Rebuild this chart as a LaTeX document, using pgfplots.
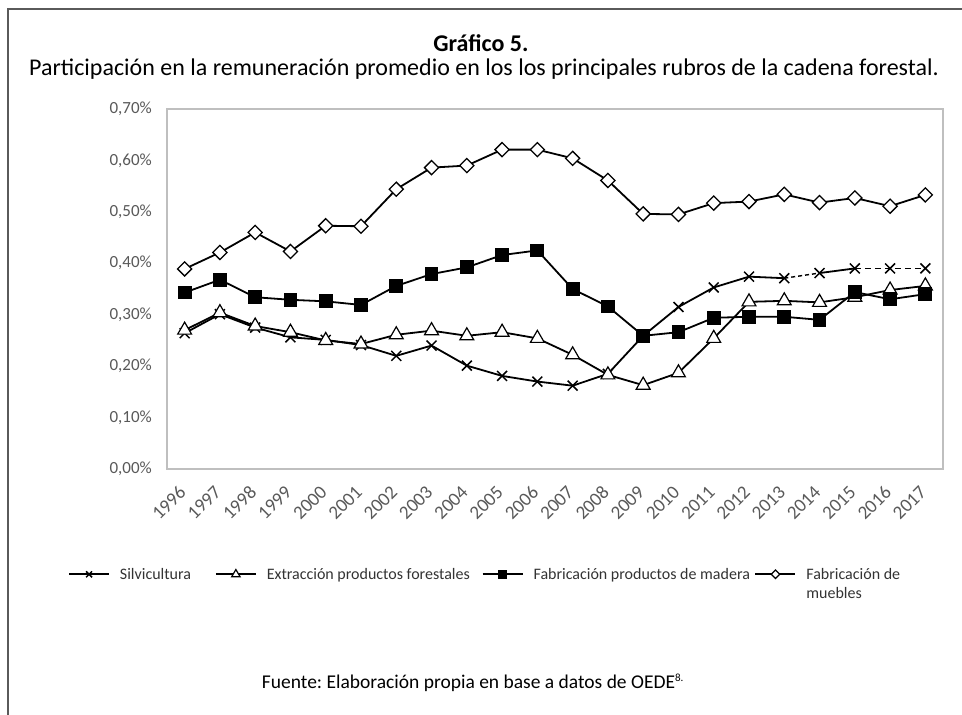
\documentclass[border=0pt]{standalone}
\usepackage{fontspec}
\setmainfont{Carlito}
\usepackage{pgfplots}
\pgfplotsset{compat=1.18}
\definecolor{tickgray}{HTML}{595959}
\definecolor{framegray}{HTML}{BFBFBF}
\definecolor{boxgray}{HTML}{5A5A5A}

\begin{document}
\frenchspacing
\begin{tikzpicture}
\path[use as bounding box] (0,0) rectangle (962pt,715pt);
\draw[boxgray, line width=1.5pt] (8pt,0pt) -- (8pt,706pt) -- (962pt,706pt);
\node[font=\fontsize{24}{28}\selectfont\bfseries] at (481pt,672pt) {Gráfico 5.};
\node[font=\fontsize{24}{28}\selectfont] at (484pt,646pt)
  {Participación en la remuneración promedio en los los principales rubros de la cadena forestal.};
\node[font=\fontsize{19.5}{24}\selectfont] at (473pt,32pt)
  {Fuente: Elaboración propia en base a datos de OEDE\textsuperscript{\fontsize{11}{12}\selectfont 8.}};

\begin{axis}[
  at={(167pt,246pt)}, anchor=south west,
  width=776pt, height=360pt, scale only axis,
  xmin=1995.5, xmax=2017.5, ymin=0, ymax=0.7,
  xtick={1996,...,2017},
  ytick={0,0.1,0.2,0.3,0.4,0.5,0.6,0.7},
  major tick length=0pt,
  axis line style={framegray, line width=1.2pt},
  /pgf/number format/assume math mode=true,
  x tick label style={/pgf/number format/1000 sep=},
  yticklabel={\pgfmathprintnumber[fixed,fixed zerofill,precision=2,use comma]{\tick}\%},
  tick label style={text=tickgray},
  yticklabel style={font=\fontsize{17}{20}\selectfont, anchor=east, inner sep=0pt, xshift=-15pt},
  xticklabel style={font=\fontsize{19}{22}\selectfont, xshift=-2pt, yshift=-20pt,
    rotate=45, anchor=east, inner sep=0pt},
  legend columns=4,
  legend style={at={(axis description cs:-0.1276,-0.275)}, anchor=north west,
    draw=none, fill=none, inner sep=0pt,
    font=\fontsize{16}{19}\selectfont, text=black!80,
    nodes={anchor=base west, inner sep=0pt},
    /tikz/every odd column/.style={column sep=10pt},
    /tikz/every even column/.style={column sep=0pt}},
  legend image code/.code={
    \draw[mark repeat=2, mark phase=2, #1, every mark/.append style={scale=0.6}]
      plot coordinates {(0pt,5pt) (20pt,5pt) (40pt,5pt)};
  },
  every axis plot/.append style={line width=1.8pt, black},
]
% Silvicultura
\addplot[mark=x, mark size=7pt, mark options={solid, line width=1.5pt}]
  coordinates {
    (1996,0.264) (1997,0.301) (1998,0.275) (1999,0.256) (2000,0.251) (2001,0.241)
    (2002,0.220) (2003,0.240) (2004,0.201) (2005,0.181) (2006,0.170) (2007,0.162)
    (2008,0.185) (2009,0.259) (2010,0.315) (2011,0.353) (2012,0.374) (2013,0.371)
  };
\addlegendentry{\parbox[t]{95pt}{Silvicultura}}
\addplot[forget plot, no marks, line width=1.4pt, dash pattern=on 4pt off 3pt]
  coordinates {(2013,0.371) (2014,0.381)};
\addplot[forget plot, no marks]
  coordinates {(2014,0.381) (2015,0.390)};
\addplot[forget plot, no marks, line width=1.8pt, dash pattern=on 6pt off 4pt]
  coordinates {(2015,0.390) (2016,0.390) (2017,0.390)};
\addplot[forget plot, only marks, mark=x, mark size=7pt, mark options={line width=1.5pt}]
  coordinates {(2014,0.381) (2015,0.390) (2016,0.390) (2017,0.390)};

% Extraccion productos forestales
\addplot[mark=triangle*, mark size=8pt, mark options={fill=white, line width=1.2pt}]
  coordinates {
    (1996,0.270) (1997,0.304) (1998,0.278) (1999,0.266) (2000,0.250) (2001,0.243)
    (2002,0.261) (2003,0.269) (2004,0.259) (2005,0.266) (2006,0.254) (2007,0.222)
    (2008,0.183) (2009,0.163) (2010,0.187) (2011,0.254) (2012,0.325) (2013,0.327)
    (2014,0.324) (2015,0.334) (2016,0.348) (2017,0.356)
  };
\addlegendentry{\parbox[t]{215pt}{Extracción productos forestales}}

% Fabricacion productos de madera
\addplot[mark=square*, mark size=6pt, mark options={fill=black}]
  coordinates {
    (1996,0.343) (1997,0.368) (1998,0.334) (1999,0.329) (2000,0.326) (2001,0.319)
    (2002,0.356) (2003,0.379) (2004,0.392) (2005,0.416) (2006,0.425) (2007,0.350)
    (2008,0.316) (2009,0.259) (2010,0.266) (2011,0.294) (2012,0.296) (2013,0.296)
    (2014,0.290) (2015,0.344) (2016,0.330) (2017,0.340)
  };
\addlegendentry{\parbox[t]{221pt}{Fabricación productos de madera}}

% Fabricacion de muebles
\addplot[mark=square*, mark size=5pt, mark options={fill=white, rotate=45, line width=1.3pt}]
  coordinates {
    (1996,0.389) (1997,0.421) (1998,0.460) (1999,0.423) (2000,0.473) (2001,0.472)
    (2002,0.544) (2003,0.586) (2004,0.590) (2005,0.621) (2006,0.621) (2007,0.604)
    (2008,0.561) (2009,0.496) (2010,0.495) (2011,0.517) (2012,0.520) (2013,0.534)
    (2014,0.518) (2015,0.527) (2016,0.511) (2017,0.533)
  };
\addlegendentry{\parbox[t]{130pt}{Fabricación de\\muebles}}
\end{axis}
\end{tikzpicture}
\end{document}
